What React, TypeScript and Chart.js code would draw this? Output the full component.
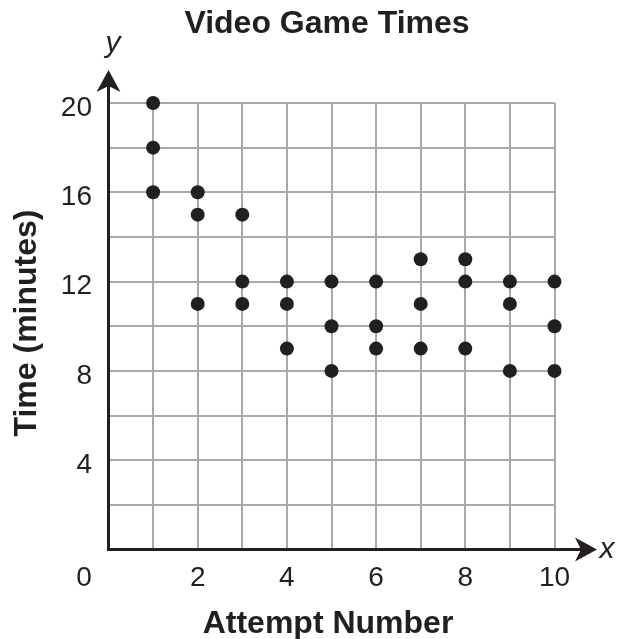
import React, { useEffect, useRef } from "react";
import { Chart, registerables } from "chart.js";

Chart.register(...registerables);

const attempts: number[] = [1, 1, 1, 2, 2, 2, 3, 3, 3, 4, 4, 4, 5, 5, 5, 6, 6, 6, 7, 7, 7, 8, 8, 8, 9, 9, 9, 10, 10, 10];
const times: number[] = [20, 18, 16, 16, 15, 11, 15, 12, 11, 12, 11, 9, 12, 10, 8, 12, 10, 9, 13, 11, 9, 13, 12, 9, 12, 11, 8, 12, 10, 8];
const xTickLabels: number[] = [2, 4, 6, 8, 10];
const yTickLabels: number[] = [4, 8, 12, 16, 20];

const chartTitle = "Video Game Times";
const xTitle = "Attempt Number";
const yTitle = "Time (minutes)";

const INK = "#231f20";
const GRID = "#a7a9ac";
const FONT = "'Liberation Sans', Arial, Helvetica, sans-serif";

const decorPlugin = {
  id: "decor",
  beforeDatasetsDraw(chart: any) {
    const { ctx, chartArea } = chart;
    const x0 = chart.scales.x.getPixelForValue(0);
    const y0 = chart.scales.y.getPixelForValue(0);
    ctx.save();
    ctx.strokeStyle = INK;
    ctx.fillStyle = INK;
    ctx.lineWidth = 3;
    // y axis
    ctx.beginPath();
    ctx.moveTo(x0, y0 + 1.5);
    ctx.lineTo(x0, 85);
    ctx.stroke();
    // x axis
    ctx.beginPath();
    ctx.moveTo(x0 - 1.5, y0);
    ctx.lineTo(582, y0);
    ctx.stroke();
    // y arrow
    ctx.beginPath();
    ctx.moveTo(x0, 70);
    ctx.lineTo(x0 + 12, 92);
    ctx.lineTo(x0, 86);
    ctx.lineTo(x0 - 12, 92);
    ctx.closePath();
    ctx.fill();
    // x arrow
    ctx.beginPath();
    ctx.moveTo(597, y0);
    ctx.lineTo(575, y0 - 12);
    ctx.lineTo(581, y0);
    ctx.lineTo(575, y0 + 12);
    ctx.closePath();
    ctx.fill();

    // texts
    ctx.textAlign = "center";
    ctx.textBaseline = "alphabetic";
    ctx.font = `bold 32px ${FONT}`;
    ctx.fillText(chartTitle, 327, 33);
    ctx.fillText(xTitle, 328, 633);
    ctx.save();
    ctx.translate(36, 323);
    ctx.rotate(-Math.PI / 2);
    ctx.fillText(yTitle, 0, 0);
    ctx.restore();

    ctx.font = `28px ${FONT}`;
    ctx.fillText("0", 84, 586);
    ctx.font = `italic 30px ${FONT}`;
    ctx.fillText("y", 113, 52);
    ctx.fillText("x", 607, 558);
    ctx.restore();
  },
};

export default function App() {
  const ref = useRef<HTMLCanvasElement>(null);
  useEffect(() => {
    if (!ref.current) return;
    const chart = new Chart(ref.current, {
      type: "scatter",
      data: {
        datasets: [
          {
            data: attempts.map((a, i) => ({ x: a, y: times[i] })),
            backgroundColor: INK,
            borderColor: INK,
            pointRadius: 7,
            pointHoverRadius: 7,
            borderWidth: 0,
            clip: false as any,
          },
        ],
      },
      plugins: [decorPlugin],
      options: {
        animation: false,
        responsive: false,
        devicePixelRatio: 1,
        layout: { padding: { top: 103, right: 64.5, bottom: 0, left: 0 } },
        plugins: { legend: { display: false }, tooltip: { enabled: false }, title: { display: false } },
        scales: {
          x: {
            type: "linear",
            min: 0,
            max: 10,
            afterFit: (s: any) => {
              s.height = 89.5;
            },
            border: { display: false },
            grid: {
              color: (c: any) => (c.tick && c.tick.value === 0 ? "rgba(0,0,0,0)" : GRID),
              lineWidth: 2,
              drawTicks: false,
            },
            ticks: {
              stepSize: 1,
              autoSkip: false,
              maxRotation: 0,
              padding: 12,
              color: INK,
              font: { family: FONT, size: 28 },
              callback: (v: any) => (xTickLabels.includes(Number(v)) ? String(v) : ""),
            },
          },
          y: {
            type: "linear",
            min: 0,
            max: 20,
            afterFit: (s: any) => {
              s.width = 108.5;
            },
            border: { display: false },
            grid: {
              color: (c: any) => (c.tick && c.tick.value === 0 ? "rgba(0,0,0,0)" : GRID),
              lineWidth: 2,
              drawTicks: false,
            },
            ticks: {
              stepSize: 2,
              autoSkip: false,
              padding: 16.5,
              labelOffset: 5,
              color: INK,
              font: { family: FONT, size: 28 },
              callback: (v: any) => (yTickLabels.includes(Number(v)) ? String(v) : ""),
            },
          },
        },
      },
    });
    return () => chart.destroy();
  }, []);
  return (
    <div style={{ position: "absolute", left: 0, top: 0, width: 619, height: 639, background: "#fff" }}>
      <canvas ref={ref} width={619} height={639} style={{ display: "block" }} />
    </div>
  );
}
